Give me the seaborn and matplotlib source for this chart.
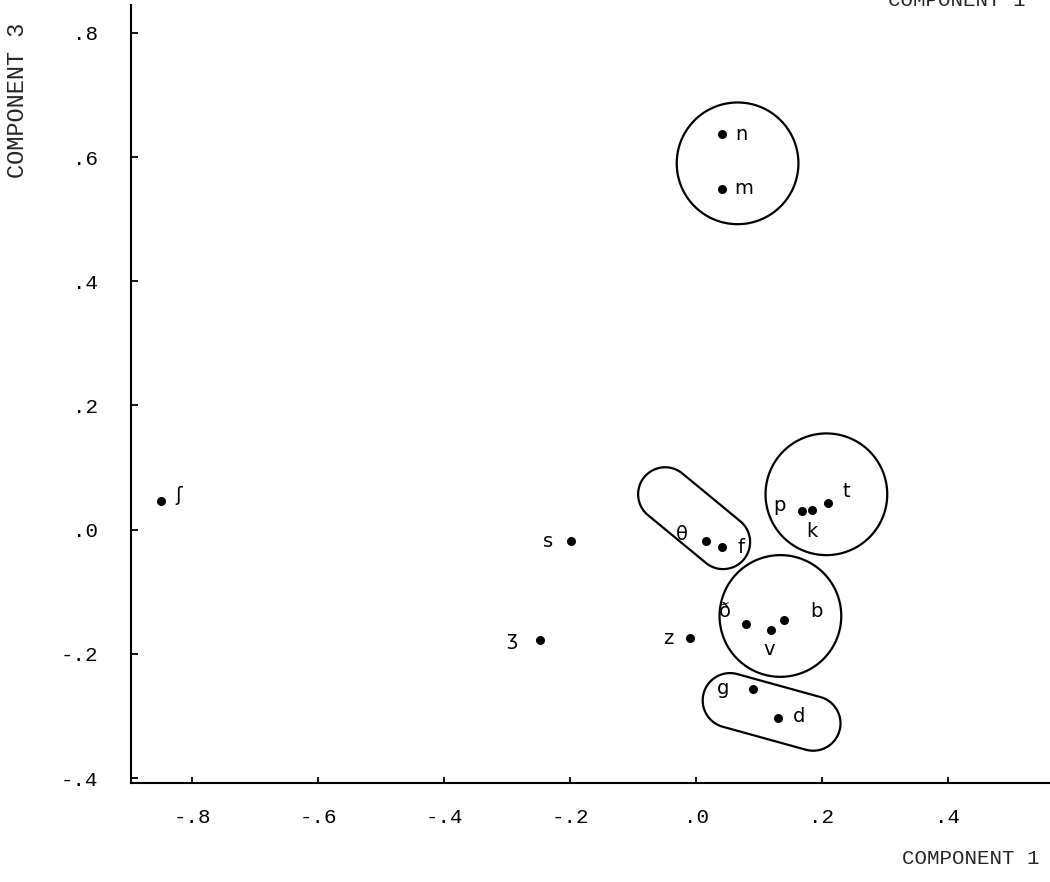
import numpy as np
import pandas as pd
import matplotlib
matplotlib.use("Agg")
import matplotlib.pyplot as plt
from matplotlib.patches import Polygon
import seaborn as sns

# ---- data ----
phonemes = ['n', 'm', 'ʃ', 's', 'ʒ', 'z', 'θ', 'f', 'p', 'k', 't', 'ð', 'v', 'b', 'g', 'd']
comp1 = [0.042, 0.041, -0.849, -0.199, -0.248, -0.010, 0.016, 0.042, 0.168, 0.184,
         0.210, 0.079, 0.119, 0.139, 0.091, 0.130]
comp3 = [0.637, 0.549, 0.046, -0.019, -0.177, -0.175, -0.019, -0.028, 0.030, 0.031,
         0.043, -0.152, -0.161, -0.145, -0.256, -0.303]

xticks = [-0.8, -0.6, -0.4, -0.2, 0.0, 0.2, 0.4]
xticklabels = ['-.8', '-.6', '-.4', '-.2', '.0', '.2', '.4']
yticks = [0.8, 0.6, 0.4, 0.2, 0.0, -0.2, -0.4]
yticklabels = ['.8', '.6', '.4', '.2', '.0', '-.2', '-.4']

# cluster outlines: (start centre, end centre, radius) in data units
cluster_start_x = [0.066, 0.207, 0.134, -0.049, 0.054]
cluster_start_y = [0.590, 0.057, -0.139, 0.057, -0.275]
cluster_end_x = [0.066, 0.207, 0.134, 0.043, 0.186]
cluster_end_y = [0.590, 0.057, -0.139, -0.020, -0.312]
cluster_radius = [0.098, 0.098, 0.098, 0.0435, 0.044]

# label offsets (points) for each phoneme
label_dx = [9, 9, 10, -13, -16, -12, -13, 11, -12, 0, 10, -11, -1, 19, -17, 11]
label_dy = [0, 0, 4, 0, 0, 0, 5, 0, 4, -15, 8, 9, -14, 6, 0, 1]

df = pd.DataFrame({'phoneme': phonemes, 'comp1': comp1, 'comp3': comp3})

sns.set_style('ticks')
plt.rcParams['font.family'] = ['DejaVu Sans']

fig = plt.figure(figsize=(10.5, 8.82), dpi=100)
ax = fig.add_axes([131 / 1050, 99 / 882, 1 - 131 / 1050, (783 - 5) / 882])

sns.scatterplot(data=df, x='comp1', y='comp3', ax=ax, color='black', s=42,
                edgecolor='black', linewidth=0, zorder=5, legend=False)

ax.set_xlim(-0.897, 0.562)
ax.set_ylim(-0.408, 0.845)

for sp in ['top', 'right']:
    ax.spines[sp].set_visible(False)
for sp in ['left', 'bottom']:
    ax.spines[sp].set_linewidth(1.5)
    ax.spines[sp].set_color('black')

mono = 'Liberation Mono'
ax.set_xticks(xticks)
ax.set_xticklabels(xticklabels, fontfamily=mono, fontsize=15)
ax.set_yticks(yticks)
ax.set_yticklabels(yticklabels, fontfamily=mono, fontsize=15)
ax.tick_params(axis='x', direction='in', length=4, width=1.3, pad=18, colors='black')
ax.tick_params(axis='y', direction='in', length=5, width=1.3, pad=24, colors='black')
ax.set_xlabel('')
ax.set_ylabel('')

for lab, x, y, dx, dy in zip(phonemes, comp1, comp3, label_dx, label_dy):
    ha = 'left' if dx > 3 else ('right' if dx < -3 else 'center')
    ax.annotate(lab, (x, y), xytext=(dx, dy), textcoords='offset points',
                ha=ha, va='center', fontsize=14, family='DejaVu Sans', color='black')

# outlines
T = ax.transData
py_per_unit = T.transform((0, 1))[1] - T.transform((0, 0))[1]


def outline(p1, p2, r):
    P1 = np.array(T.transform(p1))
    P2 = np.array(T.transform(p2))
    rp = r * py_per_unit
    d = P2 - P1
    ang = np.arctan2(d[1], d[0]) if np.hypot(*d) > 1e-6 else 0.0
    a2 = np.linspace(ang - np.pi / 2, ang + np.pi / 2, 120)
    a1 = np.linspace(ang + np.pi / 2, ang + 3 * np.pi / 2, 120)
    pts = np.vstack([P2 + rp * np.c_[np.cos(a2), np.sin(a2)],
                     P1 + rp * np.c_[np.cos(a1), np.sin(a1)]])
    return T.inverted().transform(pts)


for sx, sy, ex, ey, r in zip(cluster_start_x, cluster_start_y, cluster_end_x, cluster_end_y, cluster_radius):
    ax.add_patch(Polygon(outline((sx, sy), (ex, ey), r), closed=True, fill=False,
                         edgecolor='black', linewidth=1.6, zorder=3))

fig.text(18 / 1050, 1 - 100 / 882, 'COMPONENT 3', rotation=90, ha='center', va='center',
         fontsize=17, family=mono)
fig.text(1040 / 1050, 1 - 858 / 882, 'COMPONENT 1', ha='right', va='center',
         fontsize=15, family=mono)
fig.text(1025 / 1050, 1 - 1 / 882, 'COMPONENT 1', ha='right', va='center',
         fontsize=15, family=mono)

fig.savefig('out.png', dpi=100)
